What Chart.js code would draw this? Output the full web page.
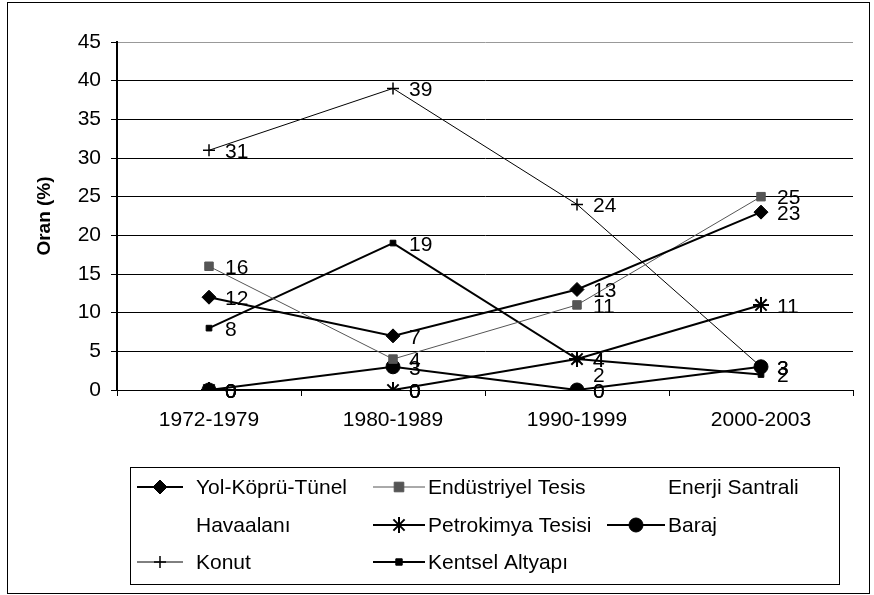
<!DOCTYPE html>
<html>
<head>
<meta charset="utf-8">
<script src="https://cdn.jsdelivr.net/npm/chart.js@4/dist/chart.umd.min.js"></script>
<style>
  html, body { margin: 0; padding: 0; background: #fff; }
  #wrap { position: relative; width: 874px; height: 595px; }
</style>
</head>
<body>
<div id="wrap"><canvas id="chart" width="874" height="595"></canvas></div>
<script>
// values
const categories = ['1972-1979', '1980-1989', '1990-1999', '2000-2003'];
const yolKopruTunel = [12, 7, 13, 23];
const endustriyelTesis = [16, 4, 11, 25];
const enerjiSantrali = [0, 0, 2, null];
const havaalani = [0, 0, 0, null];
const petrokimyaTesisi = [0, 0, 4, 11];
const baraj = [0, 3, 0, 3];
const konut = [31, 39, 24, 3];
const kentselAltyapi = [8, 19, 4, 2];
const yMin = 0, yMax = 45, yStep = 5;

Chart.defaults.font.family = '"Liberation Sans", Arial, sans-serif';
Chart.defaults.font.size = 21;
Chart.defaults.color = '#000';

function drawMarker(ctx, style, r, x, y, fill, stroke, bw) {
    ctx.save();
    ctx.fillStyle = fill;
    ctx.strokeStyle = stroke;
    ctx.lineWidth = bw;
    ctx.beginPath();
    if (style === 'rectRot') {
        ctx.moveTo(x, y - r); ctx.lineTo(x + r, y); ctx.lineTo(x, y + r); ctx.lineTo(x - r, y);
        ctx.closePath(); ctx.fill(); ctx.stroke();
    } else if (style === 'rect') {
        ctx.rect(x - r * 0.8, y - r * 0.8, r * 1.6, r * 1.6); ctx.fill(); ctx.stroke();
    } else if (style === 'circle') {
        ctx.arc(x, y, r, 0, Math.PI * 2); ctx.fill(); ctx.stroke();
    } else if (style === 'cross') {
        ctx.moveTo(x - r, y); ctx.lineTo(x + r, y); ctx.moveTo(x, y - r); ctx.lineTo(x, y + r); ctx.stroke();
    } else if (style === 'star') {
        ctx.moveTo(x - r, y); ctx.lineTo(x + r, y); ctx.moveTo(x, y - r); ctx.lineTo(x, y + r);
        var d = r * 0.7;
        ctx.moveTo(x - d, y - d); ctx.lineTo(x + d, y + d); ctx.moveTo(x + d, y - d); ctx.lineTo(x - d, y + d);
        ctx.stroke();
    }
    ctx.restore();
}

// value labels to the right of each point
const pointLabels = {
    id: 'pointLabels',
    afterDatasetsDraw(chart) {
        const ctx = chart.ctx;
        ctx.save();
        ctx.font = '21px "Liberation Sans", Arial, sans-serif';
        ctx.fillStyle = '#000';
        ctx.textAlign = 'left';
        ctx.textBaseline = 'middle';
        chart.data.datasets.forEach((ds, i) => {
            const meta = chart.getDatasetMeta(i);
            meta.data.forEach((pt, j) => {
                if (ds.data[j] == null) return;
                ctx.fillText(String(ds.data[j]), pt.x + 16, pt.y + 2);
            });
        });
        ctx.restore();
    }
};

// boxed legend in three columns, plus outer frame
const boxLegend = {
    id: 'boxLegend',
    afterDraw(chart) {
        const ctx = chart.ctx;
        const cols = [{sx: 137, sw: 46, tx: 196}, {sx: 373, sw: 52, tx: 428}, {sx: 607, sw: 58, tx: 668}];
        const rows = [487, 525, 562];
        ctx.save();
        ctx.strokeStyle = '#000';
        ctx.lineWidth = 1;
        ctx.strokeRect(7.5, 2.5, 862, 591);
        ctx.strokeRect(130.5, 467.5, 709, 117);
        ctx.font = '21px "Liberation Sans", Arial, sans-serif';
        ctx.fillStyle = '#000';
        ctx.textBaseline = 'middle';
        chart.data.datasets.forEach((ds, i) => {
            const c = cols[i % 3], y = rows[Math.floor(i / 3)];
            if (ds.showLine !== false) {
                ctx.beginPath();
                ctx.strokeStyle = ds.borderColor;
                ctx.lineWidth = ds.borderWidth;
                ctx.moveTo(c.sx, y);
                ctx.lineTo(c.sx + c.sw, y);
                ctx.stroke();
                drawMarker(ctx, ds.pointStyle, ds.pointRadius, c.sx + c.sw / 2, y,
                    ds.pointBackgroundColor, ds.pointBorderColor, ds.pointBorderWidth);
            }
            ctx.fillStyle = '#000';
            ctx.fillText(ds.label, c.tx, y + 1);
        });
        ctx.restore();
    }
};

function series(label, data, style, radius, width, color, pbw) {
    return {
        label: label,
        data: data,
        borderColor: color,
        borderWidth: width,
        pointStyle: style,
        pointRadius: radius,
        pointBackgroundColor: color,
        pointBorderColor: color,
        pointBorderWidth: pbw,
        tension: 0,
        fill: false
    };
}

function hidden(label, data) {
    return { label: label, data: data, showLine: false, pointRadius: 0, borderColor: 'transparent' };
}

new Chart(document.getElementById('chart'), {
    type: 'line',
    data: {
        labels: categories,
        datasets: [
            series('Yol-Köprü-Tünel', yolKopruTunel, 'rectRot', 7, 2, '#000', 1),
            series('Endüstriyel Tesis', endustriyelTesis, 'rect', 6, 1, '#555', 1),
            hidden('Enerji Santrali', enerjiSantrali),
            hidden('Havaalanı', havaalani),
            series('Petrokimya Tesisi', petrokimyaTesisi, 'star', 8, 2, '#000', 2),
            series('Baraj', baraj, 'circle', 7, 2, '#000', 1),
            series('Konut', konut, 'cross', 6, 1, '#000', 1.5),
            series('Kentsel Altyapı', kentselAltyapi, 'rect', 4, 2, '#000', 1)
        ]
    },
    options: {
        responsive: false,
        animation: false,
        layout: { padding: { top: 42, right: 21, bottom: 0, left: 0 } },
        plugins: { legend: { display: false }, tooltip: { enabled: false } },
        scales: {
            x: {
                offset: true,
                grid: { drawOnChartArea: false, drawTicks: true, tickLength: 6, color: '#000', offset: true },
                border: { color: '#000', width: 1 },
                ticks: { padding: 12, color: '#000', maxRotation: 0 },
                afterFit(scale) { scale.height = 205; }
            },
            y: {
                min: yMin,
                max: yMax,
                ticks: { stepSize: yStep, padding: 10, color: '#000' },
                grid: {
                    color: (c) => c.tick && c.tick.value === yMax ? '#999' : '#000',
                    tickLength: 6,
                    tickColor: '#000'
                },
                border: { color: '#000', width: 2 },
                title: {
                    display: true,
                    text: 'Oran (%)',
                    font: { size: 19, weight: 'bold' },
                    padding: { top: 33, bottom: 0 }
                },
                afterFit(scale) { scale.width = 117; }
            }
        }
    },
    plugins: [pointLabels, boxLegend]
});
</script>
</body>
</html>
